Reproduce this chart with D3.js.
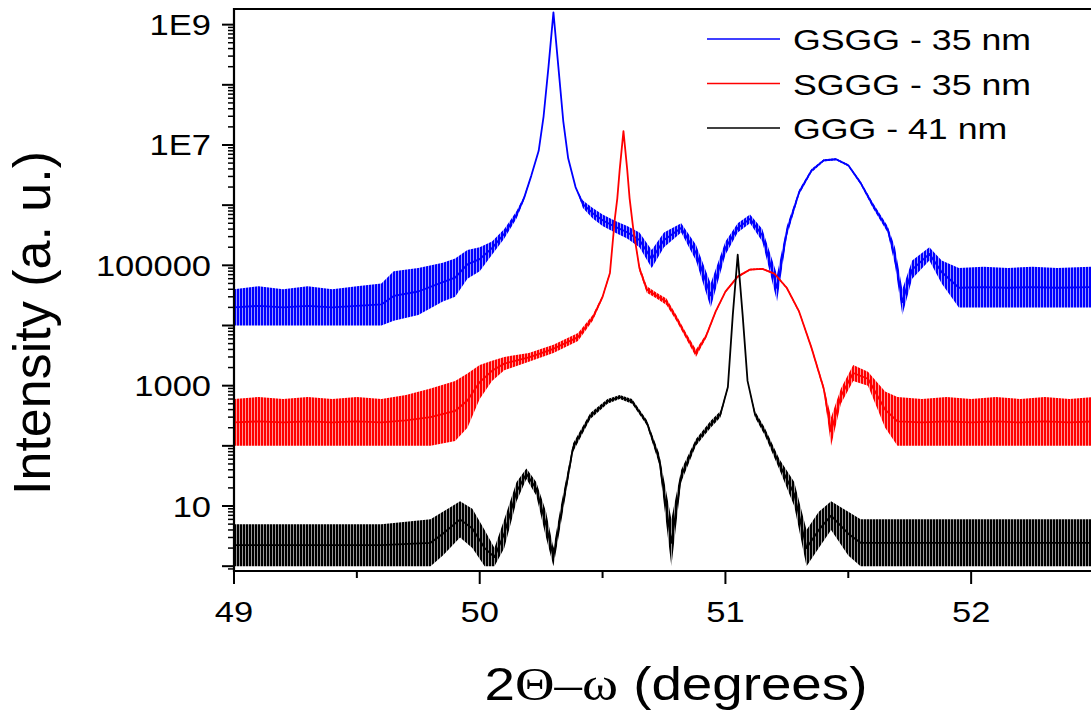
<!DOCTYPE html>
<html>
<head>
<meta charset="utf-8">
<script src="https://cdn.jsdelivr.net/npm/d3@7"></script>
<style>
  body { margin: 0; background: #fff; }
  text { font-family: "Liberation Sans", Arial, sans-serif; fill: #000; }
</style>
</head>
<body>
<svg id="chart" width="1091" height="711"></svg>
<script>
// series: 2theta (deg), lower and upper edge of the noisy trace (counts)
const gsggX  = [49.00, 49.10, 49.20, 49.30, 49.40, 49.50, 49.60, 49.65, 49.75, 49.85, 49.90, 49.95, 50.00, 50.05, 50.10, 50.15, 50.18, 50.21, 50.24, 50.26, 50.28, 50.30, 50.32, 50.34, 50.36, 50.39, 50.42, 50.46, 50.50, 50.55, 50.60, 50.65, 50.70, 50.75, 50.82, 50.88, 50.94, 51.00, 51.05, 51.10, 51.15, 51.21, 51.25, 51.30, 51.35, 51.40, 51.45, 51.50, 51.55, 51.60, 51.66, 51.69, 51.72, 51.76, 51.83, 51.88, 51.95, 52.05, 52.15, 52.25, 52.35, 52.50];
const gsggLo = [1e4, 1e4, 1e4, 1e4, 1e4, 1e4, 1e4, 1.2e4, 1.5e4, 2.5e4, 3e4, 6e4, 8e4, 1.5e5, 2.8e5, 6e5, 1.2e6, 3e6, 8e6, 3e7, 2e8, 1.6e9, 2e8, 2.5e7, 6e6, 2e6, 9e5, 6e5, 4.5e5, 3.5e5, 2.8e5, 2e5, 9e4, 2e5, 3.5e5, 1.2e5, 2e4, 1.5e5, 3.5e5, 5e5, 2.5e5, 2.5e4, 3e5, 1.5e6, 3.5e6, 5.3e6, 5.6e6, 4.4e6, 2.2e6, 9e5, 3.5e5, 1e5, 1.5e4, 6e4, 1.2e5, 5e4, 2e4, 2e4, 2e4, 2e4, 2e4, 2e4];
const gsggHi = [4e4, 4.5e4, 4e4, 4.5e4, 4e4, 4.5e4, 5e4, 8e4, 9e4, 1.1e5, 1.3e5, 1.8e5, 2e5, 2.5e5, 4e5, 8e5, 1.4e6, 3.2e6, 8e6, 3e7, 2e8, 1.6e9, 2e8, 2.5e7, 6e6, 2e6, 1.2e6, 9e5, 7e5, 5.5e5, 4.5e5, 3.5e5, 1.8e5, 3.5e5, 5e5, 2.2e5, 5e4, 2.5e5, 5e5, 7e5, 4e5, 7e4, 4.5e5, 1.8e6, 4e6, 5.8e6, 6e6, 4.8e6, 2.5e6, 1.1e6, 4.5e5, 2e5, 4e4, 1.2e5, 2e5, 1.2e5, 9e4, 9.5e4, 9e4, 9.5e4, 9e4, 9.5e4];

const sgggX  = [49.00, 49.10, 49.20, 49.30, 49.40, 49.50, 49.60, 49.70, 49.80, 49.90, 49.95, 50.00, 50.05, 50.10, 50.20, 50.30, 50.40, 50.46, 50.50, 50.53, 50.55, 50.56, 50.57, 50.585, 50.60, 50.61, 50.625, 50.65, 50.68, 50.72, 50.76, 50.80, 50.84, 50.88, 50.92, 50.96, 51.00, 51.05, 51.10, 51.15, 51.20, 51.25, 51.30, 51.35, 51.40, 51.43, 51.47, 51.52, 51.58, 51.65, 51.70, 51.80, 51.90, 52.00, 52.10, 52.20, 52.30, 52.40, 52.50];
const sgggLo = [100, 100, 100, 100, 100, 100, 100, 100, 100, 120, 200, 600, 1200, 1800, 2500, 3500, 5500, 1.2e4, 2.8e4, 7e4, 6e5, 1.3e6, 4e6, 1.7e7, 4e6, 1.3e6, 4e5, 8e4, 3.5e4, 2.8e4, 2.2e4, 1.2e4, 6e3, 3e3, 6e3, 1.6e4, 3.5e4, 6.2e4, 8.2e4, 8.5e4, 7e4, 4e4, 1.6e4, 4e3, 800, 100, 500, 1200, 1000, 200, 100, 100, 100, 100, 100, 100, 100, 100, 100];
const sgggHi = [600, 650, 600, 650, 600, 650, 600, 700, 900, 1200, 1600, 2200, 2600, 3000, 3500, 4800, 7500, 1.5e4, 3.2e4, 8e4, 6e5, 1.3e6, 4e6, 1.7e7, 4e6, 1.3e6, 4e5, 1e5, 4.5e4, 3.5e4, 2.8e4, 1.5e4, 7.5e3, 4e3, 7e3, 1.8e4, 3.8e4, 6.8e4, 8.8e4, 9e4, 7.5e4, 4.4e4, 1.8e4, 4.6e3, 1000, 300, 900, 2200, 1700, 800, 650, 600, 650, 600, 650, 600, 650, 600, 650];

const gggX  = [49.00, 49.20, 49.40, 49.60, 49.80, 49.85, 49.92, 49.97, 50.02, 50.06, 50.10, 50.15, 50.19, 50.23, 50.27, 50.30, 50.33, 50.38, 50.45, 50.52, 50.57, 50.62, 50.68, 50.73, 50.78, 50.82, 50.88, 50.94, 50.98, 51.01, 51.03, 51.05, 51.07, 51.09, 51.12, 51.16, 51.22, 51.28, 51.33, 51.38, 51.43, 51.50, 51.55, 51.70, 51.90, 52.10, 52.30, 52.50];
const gggLo = [1, 1, 1, 1, 1, 1.5, 3, 2, 1, 1, 2, 12, 28, 15, 3, 1, 5, 80, 280, 500, 600, 500, 220, 50, 1, 25, 100, 200, 300, 900, 1.5e4, 1.5e5, 1.5e4, 1200, 300, 150, 40, 10, 1, 2, 4, 1.5, 1, 1, 1, 1, 1, 1];
const gggHi = [5, 5, 5, 5, 6, 8, 12, 9, 4, 2, 6, 25, 42, 25, 8, 2, 10, 110, 350, 600, 700, 600, 270, 75, 6, 40, 130, 260, 380, 1000, 1.5e4, 1.5e5, 1.5e4, 1200, 380, 200, 60, 25, 4, 8, 12, 8, 6, 6, 6, 6, 6, 6];

const seriesNames = ["GSGG - 35 nm", "SGGG - 35 nm", "GGG - 41 nm"];
const seriesColors = ["#0000ff", "#ff0000", "#000000"];
const xTicks = [49, 50, 51, 52];
const yLabelTicks = [1e1, 1e3, 1e5, 1e7, 1e9];
const yLabels = ["10", "1000", "100000", "1E7", "1E9"];

const svg = d3.select("#chart");
const pLeft = 234, pRight = 1094, pTop = 9, pBottom = 571;
const stretch = 1.19; // the picture is drawn a bit wide

const x = d3.scaleLinear().domain([49, 52.5]).range([pLeft, pRight]);
const y = d3.scaleLog().domain([Math.pow(10, -0.08), Math.pow(10, 9.26)]).range([pBottom, pTop]);

const defs = svg.append("defs");
defs.append("clipPath").attr("id", "plot")
  .append("rect").attr("x", pLeft).attr("y", pTop).attr("width", pRight - pLeft).attr("height", pBottom - pTop);
// dense vertical hatching so the noisy parts look like packed spikes
seriesColors.forEach((c, i) => {
  defs.append("pattern").attr("id", "noise" + i)
    .attr("patternUnits", "userSpaceOnUse").attr("width", 3).attr("height", 8)
    .append("rect").attr("width", 2.4).attr("height", 8).attr("fill", c);
});

const series = [
  {x: gsggX, lo: gsggLo, hi: gsggHi},
  {x: sgggX, lo: sgggLo, hi: sgggHi},
  {x: gggX, lo: gggLo, hi: gggHi}
];

const area = d3.area()
  .x(d => x(d[0]))
  .y0(d => y(d[1]))
  .y1(d => y(d[2]));
const mid = d3.line()
  .x(d => x(d[0]))
  .y(d => (y(d[1]) + y(d[2])) / 2);

const g = svg.append("g").attr("clip-path", "url(#plot)");
series.forEach((s, i) => {
  const pts = s.x.map((v, j) => [v, s.lo[j], s.hi[j]]);
  g.append("path")
    .attr("d", area(pts))
    .attr("fill", `url(#noise${i})`);
  g.append("path")
    .attr("d", mid(pts))
    .attr("fill", "none")
    .attr("stroke", seriesColors[i])
    .attr("stroke-width", 1.8)
    .attr("stroke-linejoin", "round");
});

// axes
const yMajor = d3.range(0, 10).map(k => Math.pow(10, k));
const yMinor = [];
d3.range(-1, 10).forEach(k => d3.range(2, 10).forEach(m => {
  const v = m * Math.pow(10, k);
  if (v > y.domain()[0] && v < y.domain()[1]) yMinor.push(v);
}));

const ax = svg.append("g");
ax.selectAll(".ymin").data(yMinor).enter().append("line")
  .attr("x1", pLeft - 6).attr("x2", pLeft)
  .attr("y1", d => y(d)).attr("y2", d => y(d))
  .attr("stroke", "#000").attr("stroke-width", 1.5);
ax.selectAll(".ymaj").data(yMajor).enter().append("line")
  .attr("x1", pLeft - 12).attr("x2", pLeft)
  .attr("y1", d => y(d)).attr("y2", d => y(d))
  .attr("stroke", "#000").attr("stroke-width", 2);

const xMinor = [49.5, 50.5, 51.5, 52.5];
ax.selectAll(".xmin").data(xMinor).enter().append("line")
  .attr("x1", d => x(d)).attr("x2", d => x(d))
  .attr("y1", pBottom).attr("y2", pBottom + 7)
  .attr("stroke", "#000").attr("stroke-width", 2);
ax.selectAll(".xmaj").data(xTicks).enter().append("line")
  .attr("x1", d => x(d)).attr("x2", d => x(d))
  .attr("y1", pBottom).attr("y2", pBottom + 13)
  .attr("stroke", "#000").attr("stroke-width", 2);

ax.append("line").attr("x1", pLeft).attr("x2", pLeft).attr("y1", pTop - 1).attr("y2", pBottom + 1)
  .attr("stroke", "#000").attr("stroke-width", 2.2);
ax.append("line").attr("x1", pLeft - 1).attr("x2", 1091).attr("y1", pBottom).attr("y2", pBottom)
  .attr("stroke", "#000").attr("stroke-width", 2.2);
ax.append("line").attr("x1", pLeft - 1).attr("x2", 1091).attr("y1", pTop).attr("y2", pTop)
  .attr("stroke", "#000").attr("stroke-width", 2.2);

// tick labels
ax.selectAll(".ylab").data(yLabelTicks).enter().append("text")
  .attr("transform", d => `translate(${pLeft - 23},${y(d) + 10.5}) scale(${stretch},1)`)
  .attr("text-anchor", "end")
  .attr("font-size", 29)
  .text((d, i) => yLabels[i]);
ax.selectAll(".xlab").data(xTicks).enter().append("text")
  .attr("transform", d => `translate(${x(d)},${pBottom + 51}) scale(${stretch},1)`)
  .attr("text-anchor", "middle")
  .attr("font-size", 29)
  .text(d => d);

// axis titles
const xt = svg.append("text")
  .attr("transform", `translate(676,700) scale(${stretch},1)`)
  .attr("text-anchor", "middle")
  .attr("font-size", 46);
xt.append("tspan").text("2");
xt.append("tspan").attr("font-family", "Liberation Serif, serif").text("\u0398\u2013\u03c9");
xt.append("tspan").text(" (degrees)");

svg.append("text")
  .attr("transform", "translate(50,323) rotate(-90)")
  .attr("text-anchor", "middle")
  .attr("font-size", 52)
  .text("Intensity (a. u.)");

// legend
const leg = svg.append("g");
seriesNames.forEach((name, i) => {
  const ly = 39 + i * 44.5;
  leg.append("line").attr("x1", 707).attr("x2", 780).attr("y1", ly).attr("y2", ly)
    .attr("stroke", seriesColors[i]).attr("stroke-width", 1.5);
  leg.append("text")
    .attr("transform", `translate(793,${ly + 11}) scale(${stretch},1)`)
    .attr("font-size", 30)
    .text(name);
});
</script>
</body>
</html>
